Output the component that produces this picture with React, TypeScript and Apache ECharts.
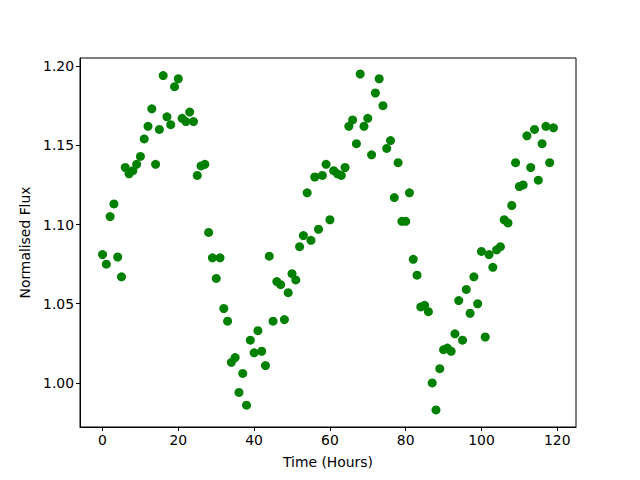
import React, { useEffect, useRef } from "react";
import * as echarts from "echarts";

const hours: number[] = Array.from({ length: 120 }, (_, i) => i);
const flux: number[] = [
  1.081, 1.075, 1.105, 1.113, 1.0795, 1.067, 1.136, 1.132, 1.134, 1.138,
  1.143, 1.154, 1.162, 1.173, 1.138, 1.160, 1.194, 1.168, 1.163, 1.187,
  1.192, 1.167, 1.165, 1.171, 1.165, 1.131, 1.137, 1.138, 1.095, 1.079,
  1.066, 1.079, 1.047, 1.039, 1.013, 1.016, 0.994, 1.006, 0.986, 1.027,
  1.019, 1.033, 1.020, 1.011, 1.080, 1.039, 1.064, 1.062, 1.040, 1.057,
  1.069, 1.065, 1.086, 1.093, 1.120, 1.090, 1.130, 1.097, 1.131, 1.138,
  1.103, 1.134, 1.132, 1.131, 1.136, 1.162, 1.166, 1.151, 1.195, 1.162,
  1.167, 1.144, 1.183, 1.192, 1.175, 1.148, 1.153, 1.117, 1.139, 1.102,
  1.102, 1.120, 1.078, 1.068, 1.048, 1.049, 1.045, 1.000, 0.983, 1.009,
  1.021, 1.022, 1.020, 1.031, 1.052, 1.027, 1.059, 1.044, 1.067, 1.050,
  1.083, 1.029, 1.081, 1.073, 1.084, 1.086, 1.103, 1.101, 1.112, 1.139,
  1.124, 1.125, 1.156, 1.136, 1.160, 1.128, 1.151, 1.162, 1.139, 1.161,
];
const xTicks: number[] = [0, 20, 40, 60, 80, 100, 120];
const yTicks: number[] = [1.0, 1.05, 1.1, 1.15, 1.2];

export default function App() {
  const ref = useRef<HTMLDivElement>(null);
  useEffect(() => {
    if (!ref.current) return;
    const chart = echarts.init(ref.current, null, { renderer: "svg" });
    const font = "DejaVu Sans";
    chart.setOption({
      animation: false,
      backgroundColor: "#ffffff",
      grid: {
        left: 80,
        top: 58,
        right: 64,
        bottom: 53,
        show: true,
        borderColor: "#000",
        borderWidth: 1,
        backgroundColor: "transparent",
      },
      xAxis: {
        type: "value",
        min: -5.95,
        max: 124.95,
        name: "Time (Hours)",
        nameLocation: "middle",
        nameGap: 28,
        nameTextStyle: { fontFamily: font, fontSize: 13.9, color: "#000" },
        axisLine: { show: true, onZero: false, lineStyle: { color: "#000", width: 1 } },
        axisTick: {
          show: true,
          length: 4,
          inside: false,
          customValues: xTicks,
          lineStyle: { color: "#000" },
        },
        axisLabel: {
          customValues: xTicks,
          fontFamily: font,
          fontSize: 13.9,
          color: "#000",
          margin: 6,
        },
        splitLine: { show: false },
      },
      yAxis: {
        type: "value",
        min: 0.9722,
        max: 1.2051,
        name: "Normalised Flux",
        nameLocation: "middle",
        nameGap: 47,
        nameRotate: 90,
        nameTextStyle: { fontFamily: font, fontSize: 13.9, color: "#000" },
        axisLine: { show: true, onZero: false, lineStyle: { color: "#000", width: 1 } },
        axisTick: {
          show: true,
          length: 4,
          inside: false,
          customValues: yTicks,
          lineStyle: { color: "#000" },
        },
        axisLabel: {
          customValues: yTicks,
          formatter: (v: number) => v.toFixed(2),
          fontFamily: font,
          fontSize: 13.9,
          color: "#000",
          margin: 6,
        },
        splitLine: { show: false },
      },
      series: [
        {
          type: "scatter",
          data: hours.map((h, i) => [h, flux[i]]),
          symbol: "circle",
          symbolSize: 9,
          itemStyle: { color: "#008000", opacity: 1 },
        },
      ],
    });
    return () => chart.dispose();
  }, []);
  return <div ref={ref} style={{ width: 640, height: 480, position: "absolute", left: 0, top: 0 }} />;
}
